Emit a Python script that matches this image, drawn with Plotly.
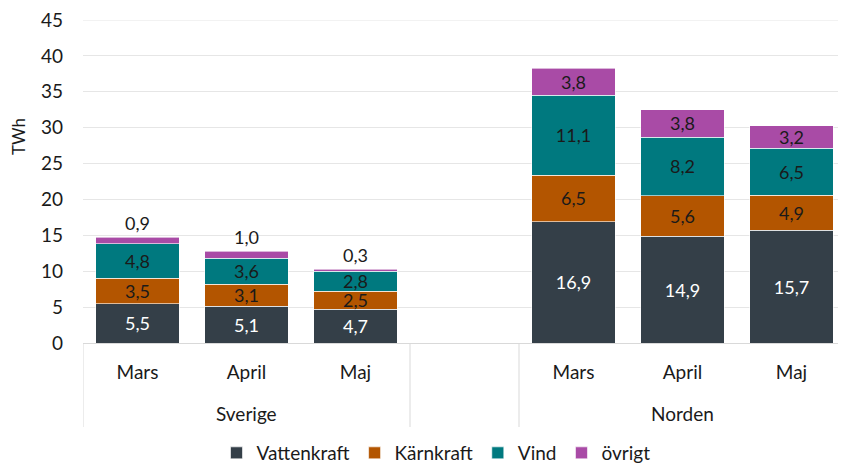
import plotly.graph_objects as go

groups = ["Sverige", "Norden"]
months = ["Mars", "April", "Maj"]
series_names = ["Vattenkraft", "Kärnkraft", "Vind", "övrigt"]
vattenkraft = [5.5, 5.1, 4.7, 16.9, 14.9, 15.7]
karnkraft = [3.5, 3.1, 2.5, 6.5, 5.6, 4.9]
vind = [4.8, 3.6, 2.8, 11.1, 8.2, 6.5]
ovrigt = [0.9, 1.0, 0.3, 3.8, 3.8, 3.2]
y_ticks = [0, 5, 10, 15, 20, 25, 30, 35, 40, 45]

colors = ["#343F48", "#B35500", "#00797F", "#A94BA6"]
text_colors = ["white", "#1a1a1a", "#1a1a1a", "#1a1a1a"]
FONT = "Lato"
FS = 18
FS_CAT = 19
GRID = "#E6E6E6"

# slot positions: group g occupies slots g*4 .. g*4+2 (one empty slot between)
xpos = []
for gi, g in enumerate(groups):
    for mi, m in enumerate(months):
        xpos.append(gi * 4 + mi)

fig = go.Figure()
all_series = [vattenkraft, karnkraft, vind, ovrigt]
for i, (name, vals) in enumerate(zip(series_names, all_series)):
    if name == "övrigt":
        tpos = ["outside" if x < 3 else "inside" for x in xpos]
    else:
        tpos = "inside"
    fig.add_trace(go.Bar(
        x=xpos, y=vals, name=name,
        marker=dict(color=colors[i], line=dict(color="white", width=0.6)),
        width=0.77,
        texttemplate="%{y:.1f}",
        textposition=tpos,
        insidetextanchor="middle",
        textangle=0,
        cliponaxis=False,
        insidetextfont=dict(color=text_colors[i], size=FS, family=FONT),
        outsidetextfont=dict(color="#1a1a1a", size=FS, family=FONT),
        constraintext="none",
    ))

# page body has an 8px margin; figure coordinates are offset accordingly
L, R, T, B = 75, 8, 12, 129
W, H = 846, 464
plot_w = W - L - R
plot_h = H - T - B

shapes = []
for xv in [-0.5, 2.5, 3.5, 6.5]:
    shapes.append(dict(type="line", xref="x", yref="paper", x0=xv, x1=xv,
                       y0=0, y1=-84 / plot_h, line=dict(color="#D9D9D9", width=1)))
# top gridline (plotly omits gridlines on the plot edge)
shapes.append(dict(type="line", xref="paper", yref="y", x0=0, x1=1, y0=y_ticks[-1], y1=y_ticks[-1],
                   layer="below", line=dict(color=GRID, width=1)))

annotations = []
for gi, g in enumerate(groups):
    annotations.append(dict(x=gi * 4 + 1, y=-70 / plot_h, xref="x", yref="paper",
                            text=g, showarrow=False, xanchor="center", yanchor="middle",
                            font=dict(size=FS_CAT, family=FONT, color="#1a1a1a")))
annotations.append(dict(x=(10 - L) / plot_w, y=(H - B - 129) / plot_h, xref="paper", yref="paper",
                        text="TWh", showarrow=False, textangle=-90,
                        xanchor="center", yanchor="middle",
                        font=dict(size=FS - 1, family=FONT, color="#1a1a1a")))

fig.update_layout(
    width=W, height=H,
    margin=dict(l=L, r=R, t=T, b=B, autoexpand=False),
    barmode="stack",
    separators=", ",
    plot_bgcolor="white", paper_bgcolor="white",
    font=dict(family=FONT, size=FS, color="#1a1a1a"),
    xaxis=dict(range=[-0.5, 6.5], tickvals=xpos, ticktext=months * len(groups),
               showgrid=False, zeroline=False, showline=False, ticks="",
               ticklabelstandoff=16, tickfont=dict(size=FS_CAT, family=FONT, color="#1a1a1a")),
    yaxis=dict(range=[0, 45], tickvals=y_ticks, showgrid=True, gridcolor=GRID,
               gridwidth=1, zeroline=True, zerolinecolor="#D9D9D9", zerolinewidth=1,
               showline=False, ticks="", ticklabelstandoff=19, ticklabeloverflow="allow",
               tickfont=dict(size=FS_CAT, family=FONT, color="#1a1a1a")),
    legend=dict(orientation="h", x=(428 - L) / plot_w, xanchor="center", y=-110 / plot_h,
                yanchor="middle", font=dict(size=FS_CAT, family=FONT, color="#1a1a1a"),
                traceorder="normal", itemwidth=30),
    shapes=shapes,
    annotations=annotations,
    showlegend=True,
)

fig.write_html("out.html")
